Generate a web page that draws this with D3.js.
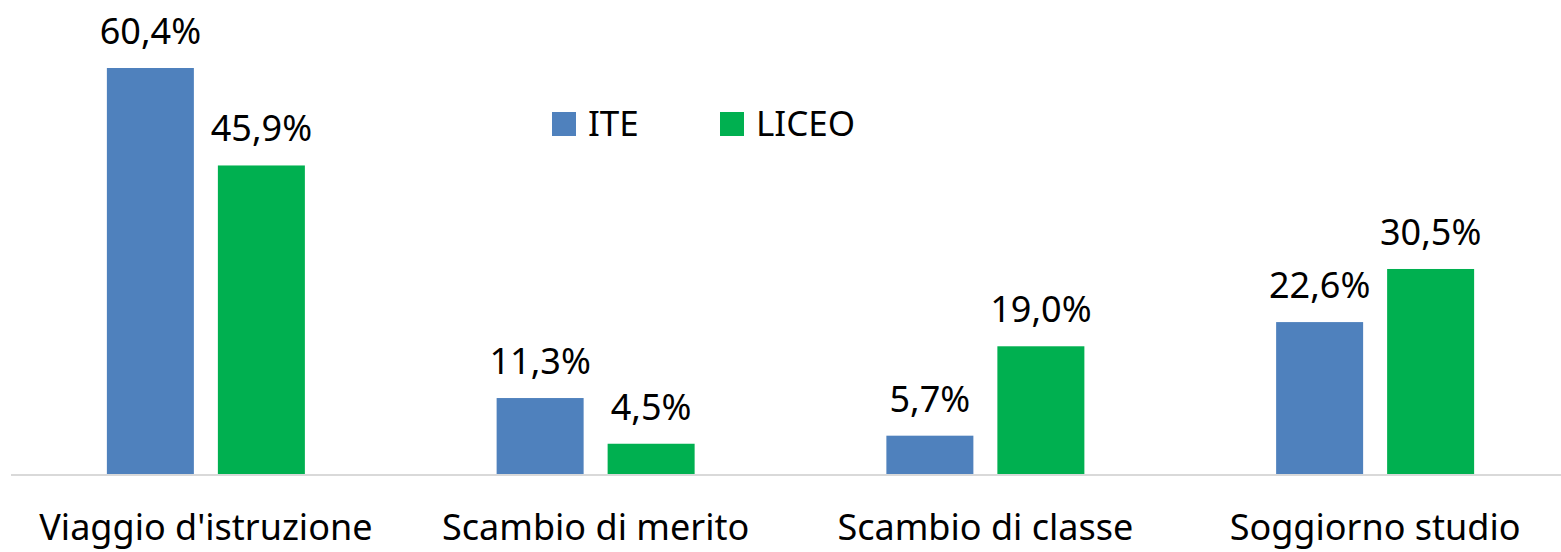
<!DOCTYPE html>
<html>
<head>
<meta charset="utf-8">
<script src="https://d3js.org/d3.v7.min.js"></script>
<style>
  body { margin: 0; background: #fff; }
  text { font-family: "Noto Sans", "Open Sans", sans-serif; fill: #000; }
</style>
</head>
<body>
<div id="chart"></div>
<script>
// data
var categories = ["Viaggio d'istruzione", "Scambio di merito", "Scambio di classe", "Soggiorno studio"];
var seriesNames = ["ITE", "LICEO"];
var ite = [60.4, 11.3, 5.7, 22.6];
var liceo = [45.9, 4.5, 19.0, 30.5];
var colors = ["#4F81BD", "#00B050"];

var W = 1561, H = 552;
var svg = d3.select("#chart").append("svg")
    .attr("width", W).attr("height", H);

var baseline = 474;

// band scale runs a bit past the right edge, like the cropped original
var x0 = d3.scaleBand()
    .domain(categories)
    .range([11, 1570])
    .paddingInner(0)
    .paddingOuter(0);

var groupW = 198;
var x1 = d3.scaleBand()
    .domain(seriesNames)
    .range([0, groupW])
    .paddingInner(24 / 111)
    .paddingOuter(0);

var y = d3.scaleLinear()
    .domain([0, 60.4])
    .range([baseline, 68]);

var rows = categories.map(function(c, i) {
    return { cat: c, vals: [ite[i], liceo[i]] };
});

var g = svg.selectAll(".grp")
    .data(rows)
    .enter().append("g")
    .attr("transform", function(d) {
        return "translate(" + (x0(d.cat) + (x0.bandwidth() - groupW) / 2) + ",0)";
    });

g.selectAll("rect")
    .data(function(d) { return d.vals.map(function(v, j) { return { s: seriesNames[j], v: v, j: j }; }); })
    .enter().append("rect")
    .attr("x", function(d) { return x1(d.s); })
    .attr("width", x1.bandwidth())
    .attr("y", function(d) { return y(d.v); })
    .attr("height", function(d) { return baseline - y(d.v); })
    .attr("fill", function(d) { return colors[d.j]; });

g.selectAll(".lbl")
    .data(function(d) { return d.vals.map(function(v, j) { return { s: seriesNames[j], v: v }; }); })
    .enter().append("text")
    .attr("class", "lbl")
    .attr("x", function(d) { return x1(d.s) + x1.bandwidth() / 2; })
    .attr("y", function(d) { return y(d.v) - 24; })
    .attr("text-anchor", "middle")
    .style("font-size", "36px")
    .text(function(d) { return d.v.toFixed(1).replace(".", ",") + "%"; });

// axis line
svg.append("line")
    .attr("x1", 11).attr("x2", W)
    .attr("y1", baseline + 1).attr("y2", baseline + 1)
    .attr("stroke", "#d9d9d9").attr("stroke-width", 2);

// category labels
svg.selectAll(".cat")
    .data(categories)
    .enter().append("text")
    .attr("class", "cat")
    .attr("x", function(d) { return x0(d) + x0.bandwidth() / 2; })
    .attr("y", 540)
    .attr("text-anchor", "middle")
    .style("font-size", "36px")
    .text(function(d) { return d; });

// legend
var legX = [552, 720];
var leg = svg.selectAll(".leg")
    .data(seriesNames)
    .enter().append("g")
    .attr("transform", function(d, i) { return "translate(" + legX[i] + ",112)"; });
leg.append("rect")
    .attr("width", 24).attr("height", 24)
    .attr("fill", function(d, i) { return colors[i]; });
leg.append("text")
    .attr("x", 36).attr("y", 24)
    .style("font-size", "35px")
    .text(function(d) { return d; });
</script>
</body>
</html>
